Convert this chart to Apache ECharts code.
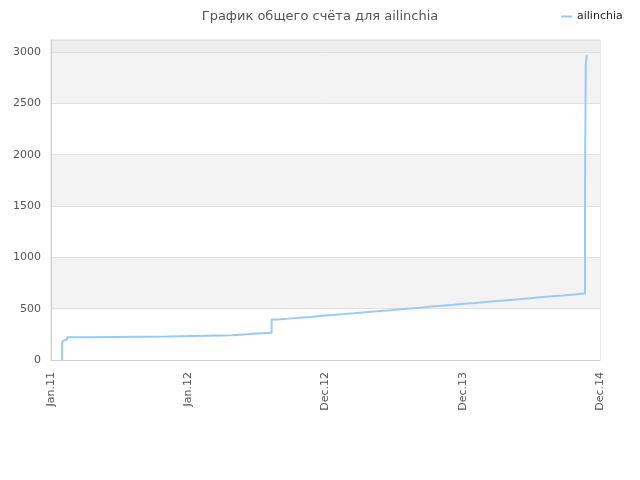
<!DOCTYPE html>
<html><head><meta charset="utf-8">
<script src="https://cdn.jsdelivr.net/npm/echarts@6/dist/echarts.min.js"></script>
<style>html,body{margin:0;padding:0;background:#fff}#c{width:640px;height:480px}</style>
</head><body><div id="c"></div>
<script>
// x: days since axis start (axis ticks every 357 days)
const tickLabels = ["Jan.11", "Jan.12", "Dec.12", "Dec.13", "Dec.14"];
const days = [29, 29, 31, 34, 42, 94, 302, 471, 502, 533, 574, 590, 618, 647, 675, 704, 732, 761, 789, 818, 846, 875, 903, 932, 960, 989, 1017, 1046, 1074, 1103, 1131, 1160, 1188, 1217, 1245, 1274, 1302, 1331, 1359, 1389, 1389, 1391, 1394];
const scores = [0, 165, 185, 200, 222, 228, 240, 248, 257, 266, 395, 403, 412, 420, 430, 438, 447, 456, 466, 474, 483, 493, 501, 510, 520, 529, 538, 547, 556, 565, 574, 583, 592, 601, 611, 620, 628, 638, 647, 662, 1714, 2890, 2970];
const seriesName = "ailinchia";
const titleText = "График общего счёта для ailinchia";

const data = days.map((d, i) => [d, scores[i]]);
const chart = echarts.init(document.getElementById('c'), null, {renderer: 'canvas'});
const font = 'DejaVu Sans';
chart.setOption({
  animation: false,
  backgroundColor: '#fff',
  title: {text: titleText, left: 'center', top: 5, textStyle: {fontFamily: font, fontSize: 13, fontWeight: 'normal', color: '#555'}},
  legend: {data: [seriesName], left: 556, top: 6, icon: 'rect', itemWidth: 11, itemHeight: 2, itemGap: 4,
    textStyle: {fontFamily: font, fontSize: 11, color: '#222'}},
  grid: {left: 51, right: 40, top: 40, bottom: 120, show: true, borderColor: '#dcdcdc', borderWidth: 1},
  xAxis: {type: 'value', min: 0, max: 1428, interval: 357,
    axisLine: {show: true, lineStyle: {color: '#d0d0d0'}}, axisTick: {show: false}, splitLine: {show: false},
    axisLabel: {rotate: 90, margin: 12, fontFamily: font, fontSize: 11, color: '#555',
      formatter: v => tickLabels[Math.round(v / 357)] || ''}},
  yAxis: {type: 'value', min: 0, max: 3117, interval: 500,
    axisLine: {show: true, lineStyle: {color: '#d0d0d0'}}, axisTick: {show: false},
    splitLine: {show: true, lineStyle: {color: '#e0e0e0'}},
    splitArea: {show: true, areaStyle: {color: ['#ffffff', '#f3f3f3', '#ffffff', '#f3f3f3', '#ffffff', '#f3f3f3', '#eeeeee']}},
    axisLabel: {showMaxLabel: false, margin: 10, fontFamily: font, fontSize: 11, color: '#555',
      formatter: v => String(v)}},
  series: [{name: seriesName, type: 'line', step: 'end', data: data, symbol: 'none',
    lineStyle: {color: '#9ccaf5', width: 2}, itemStyle: {color: '#9ccaf5'}}]
});
</script></body></html>
